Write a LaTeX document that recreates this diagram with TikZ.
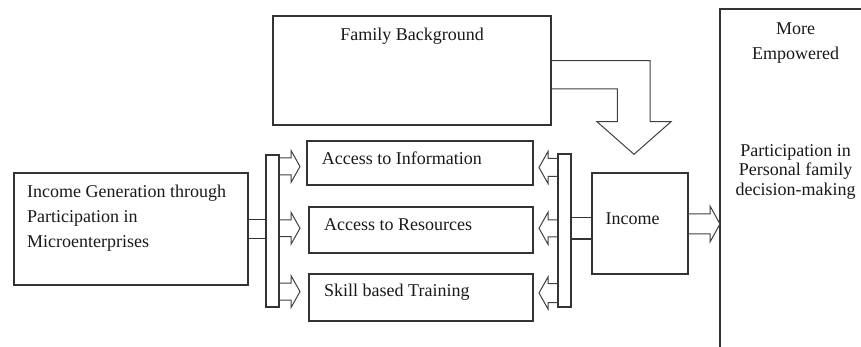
\documentclass[tikz,border=0pt]{standalone}
\usepackage{fontspec}
\setmainfont{Liberation Serif}
\newcommand\blockarrow[6]{% #1 start x, #2 tip x, #3 centre y, #4 half shaft, #5 half head, #6 head length
  \pgfmathsetmacro\hbx{#2-#6*sign(#2-#1)}
  \draw[harrow] (#1,#3-#4) -- (\hbx,#3-#4) -- (\hbx,#3-#5) -- (#2,#3)
     -- (\hbx,#3+#5) -- (\hbx,#3+#4) -- (#1,#3+#4);
}
\begin{document}
\begin{tikzpicture}[x=1pt,y=-1pt,
  line/.style={draw=black!80,line width=1.1pt},
  box/.style={line, rectangle, inner sep=0pt, outer sep=0pt, anchor=north west},
  lbl/.style={font=\fontsize{18}{25}\selectfont, inner sep=0pt, text=black!90},
  harrow/.style={draw=black!75, line width=1pt, line join=miter},
]
\useasboundingbox (0,0) rectangle (861,347);

% boxes
\node[box, minimum width=278pt, minimum height=109pt] (fb) at (273,16) {};
\node[box, minimum width=226pt, minimum height=44pt] (info) at (307,141) {};
\node[box, minimum width=224pt, minimum height=46pt] (res) at (309,207) {};
\node[box, minimum width=224pt, minimum height=47pt] (skill) at (309,274) {};
\node[box, minimum width=234pt, minimum height=112pt] (ig) at (14,173) {};
\node[box, minimum width=13pt, minimum height=152pt] (lbar) at (266,155) {};
\node[box, minimum width=13pt, minimum height=153pt] (rbar) at (558,154) {};
\node[box, minimum width=96pt, minimum height=101pt] (inc) at (592,173) {};

% right (open) box
\coordinate (empTR) at (861,9);
\coordinate (empTL) at (720,9);
\coordinate (empBL) at (720,347);
\draw[line] (empTR) -- (empTL) -- (empBL);

% double-line connectors
\coordinate (ya) at (0,219.3);
\coordinate (yb) at (0,238.3);
\draw[line] (ig.east |- ya) -- (lbar.west |- ya);
\draw[line] (ig.east |- yb) -- (lbar.west |- yb);
\coordinate (yc) at (0,217.7);
\coordinate (yd) at (0,239);
\draw[line] (rbar.east |- yc) -- (inc.west |- yc);
\draw[line] (rbar.east |- yd) -- (inc.west |- yd);

% hollow arrows from left bar
\blockarrow{279}{300}{166.5}{8.5}{16}{9}
\blockarrow{279}{300}{228.3}{8.3}{16}{9}
\blockarrow{279}{300}{291.6}{8.5}{16}{9}
% hollow arrows from right bar
\blockarrow{558}{539}{167.5}{9}{16}{9}
\blockarrow{558}{539}{228.3}{8.5}{16}{9}
\blockarrow{558}{539}{293}{9.5}{16}{9}
% income arrow
\blockarrow{688}{720}{224}{10}{18}{10}

% bent arrow from family background
\draw[harrow] ([yshift=-44.7pt]fb.north east) -- (650,60.7) -- (650,121.7) -- (671,121.7)
  -- (634,154.3) -- (597,121.7) -- (617.3,121.7) -- (617.3,89) -- ([yshift=-73pt]fb.north east);

% texts
\node[lbl, anchor=base] (fbt) at (412,40.7) {Family Background};
\node[lbl, anchor=base west] (infot) at (321.7,165) {Access to Information};
\node[lbl, anchor=base west] (rest) at (324,231) {Access to Resources};
\node[lbl, anchor=base west] (skillt) at (324,296.7) {Skill based Training};
\node[lbl, anchor=base] (inct) at (632.7,224.3) {Income};
\node[lbl, anchor=north west, align=left] (igt) at (27,185)
  {Income Generation through\\Participation in\\Microenterprises};
\node[lbl, anchor=north, align=center] (moret) at (795.5,23) {More\\Empowered};
\node[lbl, anchor=north, align=center, font=\fontsize{18}{19.3}\selectfont] (partt) at (795.5,144.4)
  {Participation in\\Personal family\\decision-making};
\end{tikzpicture}
\end{document}
